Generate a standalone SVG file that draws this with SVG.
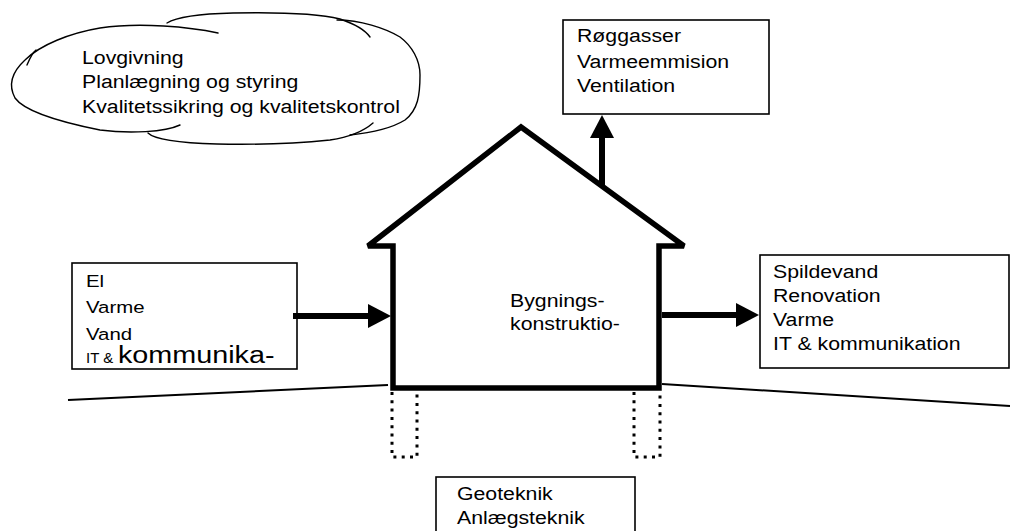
<svg xmlns="http://www.w3.org/2000/svg" width="1010" height="531" viewBox="0 0 1010 531">
<style>
.t{font-family:"Liberation Sans",Arial,sans-serif;font-size:19px;fill:#000}
.s{font-size:17px}
.box{fill:#fff;stroke:#000;stroke-width:1.6}
.cloud{fill:none;stroke:#000;stroke-width:1.4;stroke-linecap:round}
.house{fill:none;stroke:#000;stroke-width:5.5;stroke-miterlimit:2}
.ground{fill:none;stroke:#000;stroke-width:2}
.found{fill:none;stroke:#000;stroke-width:3;stroke-dasharray:3 5.3}
.arrow{fill:none;stroke:#000;stroke-width:6}
</style>
<defs>
<marker id="ah" markerUnits="userSpaceOnUse" markerWidth="24" markerHeight="26" refX="12" refY="12" orient="auto" viewBox="0 0 24 26">
<path d="M0,0 L23,12 L0,24 Z" fill="#000"/>
</marker>
</defs>
<rect width="1010" height="531" fill="#fff"/>

<g id="cloud">
<path class="cloud" d="M218,33 C190,27 140,22 100,28 C70,33 40,45 25,60 C12,72 8,85 15,98 C25,112 60,122 100,130 C130,134 165,132 180,125"/>
<path class="cloud" d="M27,65 C30,58 32,53 36,50"/>
<path class="cloud" d="M167,23 C175,18 190,14 233,13 C280,12 320,14 340,19 C355,24 365,30 370,37"/>
<path class="cloud" d="M337,20 C360,20 385,28 400,37 C412,46 420,60 420,75 C420,95 418,110 405,120 C392,128 370,133 350,135"/>
<path class="cloud" d="M148,133 C155,140 180,143 217,144 C260,145 300,143 330,140 C350,137 365,130 373,123"/>
<text class="t" transform="translate(82,64.3) scale(1.12,1)">Lovgivning</text>
<text class="t" transform="translate(82,88) scale(1.12,1)">Planlægning og styring</text>
<text class="t" transform="translate(82,112.5) scale(1.12,1)">Kvalitetssikring og kvalitetskontrol</text>
</g>

<g id="box-top">
<rect class="box" x="563" y="20" width="206" height="94"/>
<text class="t" transform="translate(577,41.7) scale(1.12,1)">Røggasser</text>
<text class="t" transform="translate(577,67.5) scale(1.12,1)">Varmeemmision</text>
<text class="t" transform="translate(577,92) scale(1.12,1)">Ventilation</text>
</g>

<g id="box-left">
<rect class="box" x="72" y="263" width="225" height="106"/>
<text class="t s" transform="translate(86,287.3) scale(1.2,1)">El</text>
<text class="t s" transform="translate(86,313) scale(1.2,1)">Varme</text>
<text class="t s" transform="translate(86,340) scale(1.2,1)">Vand</text>
<text class="t" style="font-size:15px" x="86" y="363.3">IT &amp;</text>
<text class="t" style="font-size:23px" transform="translate(118,363.3) scale(1.25,1)">kommunika-</text>
</g>

<g id="box-right">
<rect class="box" x="760" y="255" width="249" height="113"/>
<text class="t" transform="translate(773,278.3) scale(1.12,1)">Spildevand</text>
<text class="t" transform="translate(773,302) scale(1.12,1)">Renovation</text>
<text class="t" transform="translate(773,326) scale(1.12,1)">Varme</text>
<text class="t" transform="translate(773,350) scale(1.12,1)">IT &amp; kommunikation</text>
</g>

<g id="box-bottom">
<rect class="box" x="436" y="477" width="199" height="70"/>
<text class="t" transform="translate(457,500) scale(1.12,1)">Geoteknik</text>
<text class="t" transform="translate(457,524.3) scale(1.12,1)">Anlægsteknik</text>
</g>

<g id="ground">
<path class="ground" d="M68,400 L388,385"/>
<path class="ground" d="M662,384 L1010,406"/>
</g>

<g id="foundations">
<path class="found" d="M392,392 L392,457 L417,457 L417,392"/>
<path class="found" d="M634,392 L634,457 L660,457 L660,392"/>
</g>

<g id="house">
<path class="house" d="M393,388 L393,246 L368,246 L521,127 L684,246 L659,246 L659,388 Z"/>
<text class="t" transform="translate(510,306.7) scale(1.12,1)">Bygnings-</text>
<text class="t" transform="translate(510,330) scale(1.12,1)">konstruktio-</text>
</g>

<g id="connectors">
<line class="arrow" x1="293" y1="316" x2="380" y2="316" marker-end="url(#ah)"/>
<line class="arrow" x1="662" y1="315" x2="748" y2="315" marker-end="url(#ah)"/>
<line class="arrow" x1="602" y1="187" x2="602" y2="126" marker-end="url(#ah)"/>
</g>
</svg>
